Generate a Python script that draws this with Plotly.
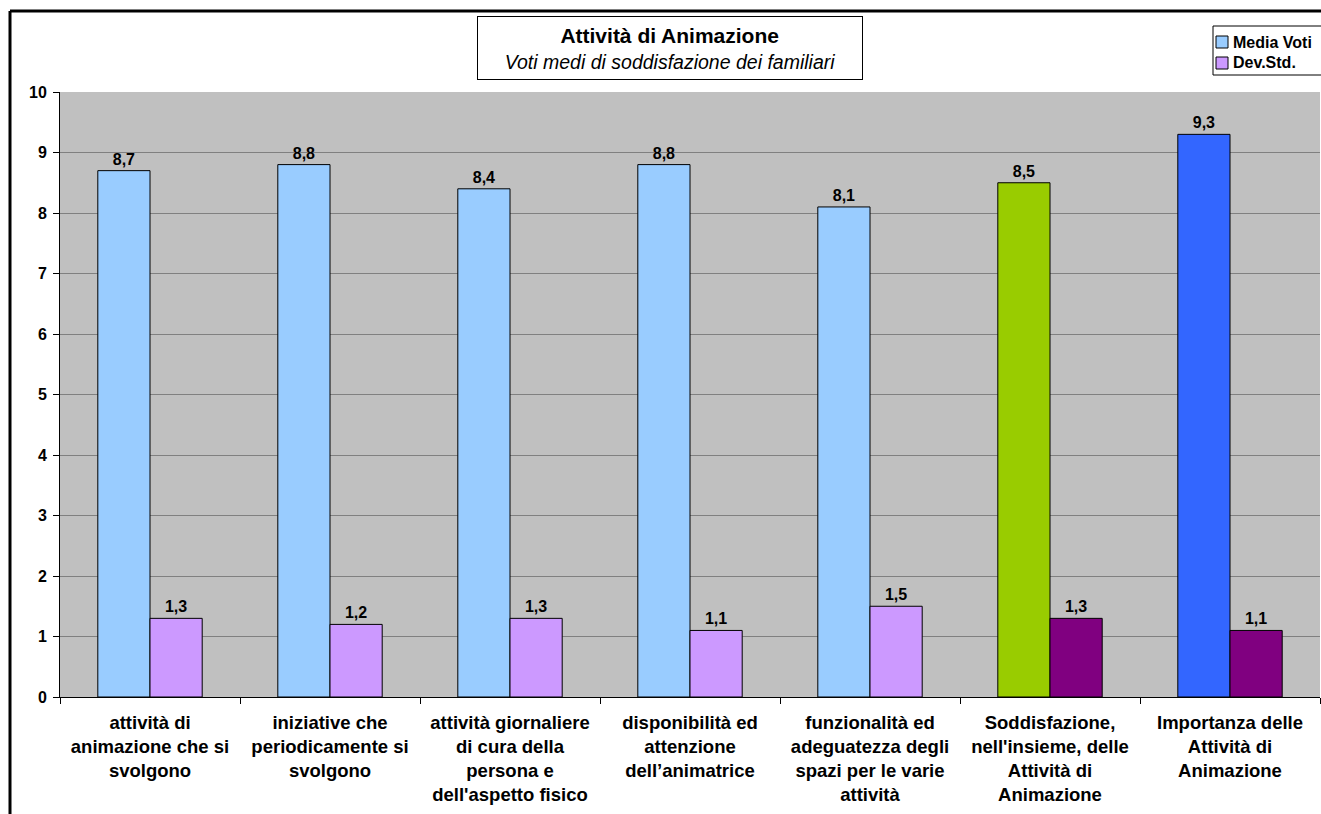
import plotly.graph_objects as go

categories = [
    "attività di<br>animazione che si<br>svolgono",
    "iniziative che<br>periodicamente si<br>svolgono",
    "attività giornaliere<br>di cura della<br>persona e<br>dell'aspetto fisico",
    "disponibilità ed<br>attenzione<br>dell’animatrice",
    "funzionalità ed<br>adeguatezza degli<br>spazi per le varie<br>attività",
    "Soddisfazione,<br>nell'insieme, delle<br>Attività di<br>Animazione",
    "Importanza delle<br>Attività di<br>Animazione",
]
media_voti = [8.7, 8.8, 8.4, 8.8, 8.1, 8.5, 9.3]
dev_std = [1.3, 1.2, 1.3, 1.1, 1.5, 1.3, 1.1]
series_names = ["Media Voti", "Dev.Std."]
media_colors = ["#99CCFF"] * 5 + ["#99CC00", "#3366FF"]
dev_colors = ["#CC99FF"] * 5 + ["#800080", "#800080"]

W, H = 1321, 814
L, R, T, B = 60, 1, 92, 117
pw, ph = W - L - R, H - T - B

def px_x(px):
    return (px - L) / pw

def px_y(py):
    return (H - B - py) / ph

label_font = dict(family="Liberation Sans, Arial", size=16, color="black", weight="bold")

fig = go.Figure()
fig.add_trace(go.Bar(
    name=series_names[0], x=categories, y=media_voti,
    marker=dict(color=media_colors, line=dict(color="black", width=1)),
    texttemplate="%{y:.1f}", textposition="outside", cliponaxis=False,
    textfont=label_font, showlegend=False,
))
fig.add_trace(go.Bar(
    name=series_names[1], x=categories, y=dev_std,
    marker=dict(color=dev_colors, line=dict(color="black", width=1)),
    texttemplate="%{y:.1f}", textposition="outside", cliponaxis=False,
    textfont=label_font, showlegend=False,
))

fig.update_layout(
    width=W, height=H,
    margin=dict(l=L, r=R, t=T, b=B, pad=0, autoexpand=False),
    paper_bgcolor="white", plot_bgcolor="#C0C0C0",
    barmode="group", bargap=0.42, bargroupgap=0,
    separators=",.",
    font=dict(family="Liberation Sans, Arial", color="black"),
    showlegend=False,
    xaxis=dict(
        showline=True, linecolor="black", linewidth=1,
        ticks="outside", tickson="boundaries", ticklen=6, tickcolor="black",
        tickfont=dict(size=18.5, weight="bold"),
        ticklabelstandoff=9,
        showgrid=False,
    ),
    yaxis=dict(
        range=[0, 10], dtick=1, showline=True, linecolor="black", linewidth=1,
        ticks="outside", ticklen=6, tickcolor="black",
        tickfont=dict(size=16, weight="bold"),
        ticklabelstandoff=3,
        showgrid=True, gridcolor="#808080", gridwidth=1, zeroline=False,
    ),
)

# title box
fig.add_annotation(
    xref="paper", yref="paper",
    x=px_x(670), y=px_y(48.5), xanchor="center", yanchor="middle",
    text="<b><span style='font-size:21px'>Attività di Animazione</span></b><br>"
         "<i><span style='font-size:19.5px'>Voti medi di soddisfazione dei familiari</span></i>",
    showarrow=False, align="center",
    bgcolor="white", bordercolor="black", borderwidth=1, borderpad=2,
    width=380, height=58,
    font=dict(family="Liberation Sans, Arial", size=20, color="black"),
)

# legend box (drawn by hand, as in the original it runs off the right edge)
fig.add_shape(type="rect", xref="paper", yref="paper",
              x0=px_x(1213), x1=px_x(W + 10), y0=px_y(75), y1=px_y(26),
              fillcolor="white", line=dict(color="black", width=1), layer="above")
legend_colors = [media_colors[0], dev_colors[0]]
for i, (name, col) in enumerate(zip(series_names, legend_colors)):
    cy = 42 + i * 21
    fig.add_shape(type="rect", xref="paper", yref="paper",
                  x0=px_x(1216), x1=px_x(1228), y0=px_y(cy + 6), y1=px_y(cy - 6),
                  fillcolor=col, line=dict(color="black", width=1), layer="above")
    fig.add_annotation(xref="paper", yref="paper", x=px_x(1231), y=px_y(cy),
                       xanchor="left", yanchor="middle", showarrow=False,
                       text=f"<b>{name}</b>",
                       font=dict(family="Liberation Sans, Arial", size=16, color="black"))

# outer frame (top and left) of the original cropped chart
fig.add_shape(type="line", xref="paper", yref="paper",
              x0=px_x(10), x1=px_x(W + 5), y0=px_y(11), y1=px_y(11),
              line=dict(color="black", width=3))
fig.add_shape(type="line", xref="paper", yref="paper",
              x0=px_x(10), x1=px_x(10), y0=px_y(11), y1=px_y(H + 5),
              line=dict(color="black", width=3))

fig.write_html("out.html")
